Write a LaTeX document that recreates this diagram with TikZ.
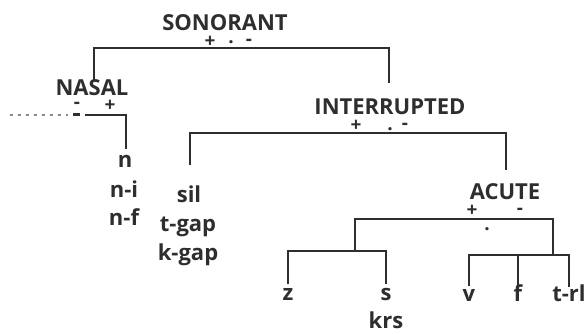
\documentclass[tikz,border=0pt]{standalone}
\usepackage{fontspec}
\setmainfont{Open Sans}
\definecolor{ink}{HTML}{2E2E2E}
\definecolor{faint}{HTML}{8A8A8A}
\begin{document}
\begin{tikzpicture}[x=1pt,y=-1pt,
  lbl/.style={inner sep=0pt, text=ink, font=\bfseries\fontsize{22}{26}\selectfont, anchor=base},
  sgn/.style={inner sep=0pt, text=ink, font=\bfseries\fontsize{19}{20}\selectfont, anchor=center},
  branch/.style={draw=ink, line width=2.4pt},
  dotbranch/.style={draw=faint, line width=2pt, dash pattern=on 3pt off 5pt}
]
\useasboundingbox (0,0) rectangle (586,334);

% labels
\node[lbl] (son) at (225,31) {SONORANT};
\node[lbl] (nas) at (92,96) {NASAL};
\node[lbl] (int) at (390,115) {INTERRUPTED};
\node[lbl] (acu) at (505,199) {ACUTE};
\node[lbl] (n)  at (125,167) {n};
\node[lbl] (ni) at (124,197) {n-i};
\node[lbl] (nf) at (124,225) {n-f};
\node[lbl] (sil) at (189,202) {sil};
\node[lbl] (tg) at (188,231) {t-gap};
\node[lbl] (kg) at (188,260) {k-gap};
\node[lbl] (z) at (288,300) {z};
\node[lbl] (s) at (386,300) {s};
\node[lbl] (krs) at (386,328) {krs};
\node[lbl] (v) at (469,301) {v};
\node[lbl] (f) at (518,301) {f};
\node[lbl] (trl) at (569,301) {t-rl};

% signs
\node[sgn] (sonp) at (210,42) {+};
\node[sgn] (sond) at (231,42) {.};
\node[sgn] (sonm) at (249,42) {-};
\node[sgn] (nasm) at (77,105) {-};
\node[sgn] (nasp) at (110,106) {+};
\node[sgn] (intp) at (356,126) {+};
\node[sgn] (intd) at (390,129) {.};
\node[sgn] (intm) at (405,126) {-};
\node[sgn] (acup) at (472,211) {+};
\node[sgn] (acum) at (520,211) {-};
\node[sgn] (acud) at (487,229) {.};

% junction coordinates
\coordinate (sonL) at (94,48);  \coordinate (sonR) at (389,48);
\coordinate (sonLe) at (94,80); \coordinate (sonRe) at (389,83);
\coordinate (nasA) at (10,115); \coordinate (nasB) at (68,115);
\coordinate (nasC) at (73,115); \coordinate (nasD) at (80,115);
\coordinate (nasE) at (85,115); \coordinate (nasR) at (126,115);
\coordinate (nasRe) at (126,149);
\coordinate (intL) at (190,133); \coordinate (intR) at (506,133);
\coordinate (intLe) at (190,165); \coordinate (intRe) at (506,170);
\coordinate (acuL) at (355,219); \coordinate (acuR) at (553,219);
\coordinate (acuLe) at (355,251); \coordinate (acuRe) at (553,255);
\coordinate (zsL) at (288,251); \coordinate (zsR) at (386,251);
\coordinate (zE) at (288,284); \coordinate (sE) at (386,284);
\coordinate (vL) at (469,255); \coordinate (fM) at (518,255); \coordinate (tR) at (569,255);
\coordinate (vE) at (469,286); \coordinate (fE) at (518,285); \coordinate (tE) at (569,287);

% branches
\draw[branch] (sonLe) -- (sonL) -- (sonR) -- (sonRe);
\draw[dotbranch] (nasA) -- (nasB);
\draw[draw=ink, line width=3pt] (nasC) -- (nasD);
\draw[branch] (nasE) -- (nasR) -- (nasRe);
\draw[branch] (intLe) -- (intL) -- (intR) -- (intRe);
\draw[branch] (acuLe) -- (acuL) -- (acuR) -- (acuRe);
\draw[branch] (zE) -- (zsL) -- (zsR) -- (sE);
\draw[branch] (vE) -- (vL) -- (tR) -- (tE);
\draw[branch] (fM) -- (fE);
\end{tikzpicture}
\end{document}
